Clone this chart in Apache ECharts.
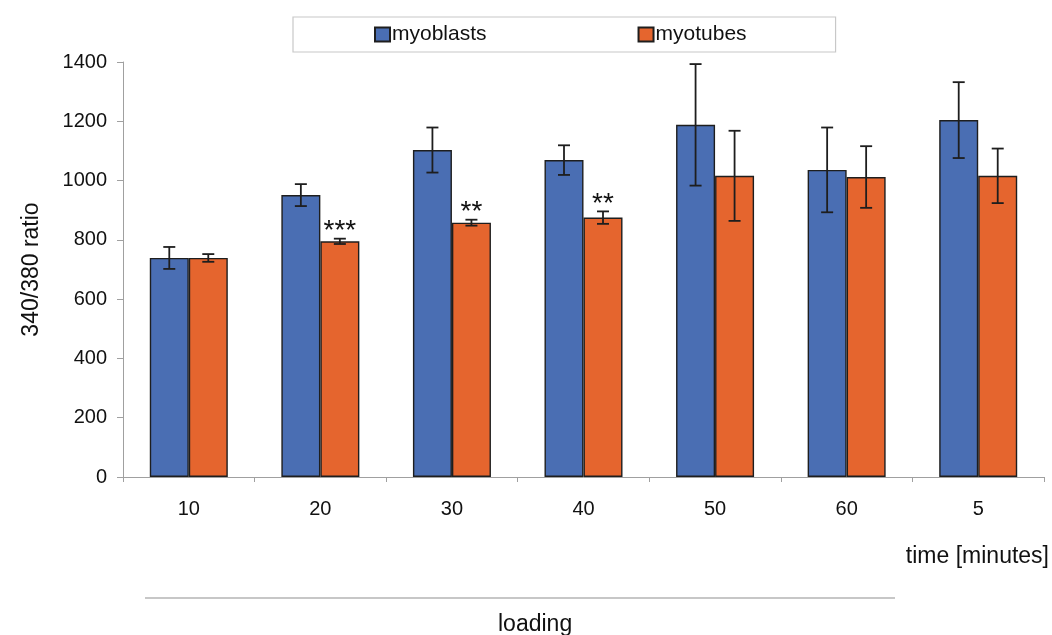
<!DOCTYPE html>
<html>
<head>
<meta charset="utf-8">
<script src="https://cdn.jsdelivr.net/npm/echarts@6/dist/echarts.min.js"></script>
<style>
  html, body { margin: 0; padding: 0; background: #fff; }
  #chart { width: 1052px; height: 635px; }
</style>
</head>
<body>
<div id="chart"></div>
<script>
// Time points (minutes) after loading
const categories = ['10', '20', '30', '40', '50', '60', '5'];

// Mean 340/380 ratio per cell type
const myoblastMeans = [739, 951, 1103, 1069, 1188, 1036, 1204];
const myotubeMeans  = [739, 795, 858, 875, 1016, 1012, 1016];

// Error bar half-widths
const myoblastErr = [37, 37, 76, 50, 205, 143, 128];
const myotubeErr  = [13, 9, 10, 21, 152, 104, 92];

// Significance markers above myotube bars
const myotubeSig = ['', '***', '**', '**', '', '', ''];
const myoblastSig = ['', '', '', '', '', '', ''];

const yTicks = { min: 0, max: 1400, interval: 200 };

const FONT = 'Liberation Sans, Arial, sans-serif';
const BLUE = '#4a6eb3';
const ORANGE = '#e5652e';
const EDGE = '#1e1e1e';
const BAR_W = 39;

function errorData(means, errs, sig) {
  return means.map((m, i) => [i, m - errs[i], m + errs[i], sig[i]]);
}

function errorSeries(name, means, errs, sig, offset) {
  return {
    type: 'custom',
    name: name + ' error',
    z: 5,
    silent: true,
    encode: { x: 0, y: [1, 2] },
    data: errorData(means, errs, sig),
    renderItem: function (params, api) {
      const i = api.value(0);
      const lo = api.coord([i, api.value(1)]);
      const hi = api.coord([i, api.value(2)]);
      const x = lo[0] + offset;
      const cap = 6;
      const style = { stroke: EDGE, lineWidth: 1.8 };
      const children = [
        { type: 'line', shape: { x1: x, y1: hi[1], x2: x, y2: lo[1] }, style: style },
        { type: 'line', shape: { x1: x - cap, y1: hi[1], x2: x + cap, y2: hi[1] }, style: style },
        { type: 'line', shape: { x1: x - cap, y1: lo[1], x2: x + cap, y2: lo[1] }, style: style }
      ];
      const s = api.value(3);
      if (s) {
        children.push({
          type: 'text',
          style: {
            text: s, x: x, y: hi[1] - 7,
            align: 'center', verticalAlign: 'middle',
            font: '28px ' + FONT, fill: '#111'
          }
        });
      }
      return { type: 'group', children: children };
    }
  };
}

const chart = echarts.init(document.getElementById('chart'), null, { renderer: 'canvas' });

chart.setOption({
  animation: false,
  backgroundColor: '#fff',
  textStyle: { fontFamily: FONT },
  grid: { left: 123, right: 8, top: 62, bottom: 158, containLabel: false },
  legend: {
    data: ['myoblasts', 'myotubes'],
    left: 293,
    top: 17,
    padding: [7, 89, 7, 81],
    itemGap: 151,
    itemWidth: 15,
    itemHeight: 14,
    borderColor: '#c8c8c8',
    borderWidth: 1.2,
    icon: 'rect',
    textStyle: { fontFamily: FONT, fontSize: 21, color: '#111', padding: [0, 0, 0, -3] }
  },
  xAxis: {
    type: 'category',
    data: categories,
    axisLine: { lineStyle: { color: '#a0a0a0', width: 1 } },
    axisTick: { show: true, length: 5, lineStyle: { color: '#a0a0a0' } },
    axisLabel: { fontFamily: FONT, fontSize: 20, color: '#111', margin: 22 },
    splitLine: { show: false }
  },
  yAxis: {
    type: 'value',
    min: yTicks.min,
    max: yTicks.max,
    interval: yTicks.interval,
    name: '340/380 ratio',
    nameLocation: 'middle',
    nameGap: 80,
    nameTextStyle: { fontFamily: FONT, fontSize: 23, color: '#111' },
    axisLine: { show: true, lineStyle: { color: '#a0a0a0', width: 1 } },
    axisTick: { show: true, inside: false, length: 6, lineStyle: { color: '#a0a0a0' } },
    axisLabel: {
      fontFamily: FONT, fontSize: 20, color: '#111', margin: 16,
      formatter: function (v) { return String(v); }
    },
    splitLine: { show: false }
  },
  series: [
    {
      name: 'myoblasts',
      type: 'bar',
      data: myoblastMeans,
      barWidth: BAR_W,
      barGap: '0%',
      itemStyle: { color: BLUE, borderColor: EDGE, borderWidth: 1.4 }
    },
    {
      name: 'myotubes',
      type: 'bar',
      data: myotubeMeans,
      barWidth: BAR_W,
      barGap: '0%',
      itemStyle: { color: ORANGE, borderColor: EDGE, borderWidth: 1.4 }
    },
    errorSeries('myoblasts', myoblastMeans, myoblastErr, myoblastSig, -BAR_W / 2),
    errorSeries('myotubes', myotubeMeans, myotubeErr, myotubeSig, BAR_W / 2)
  ],
  graphic: [
    {
      type: 'text',
      right: 3,
      top: 545,
      style: { text: 'time [minutes]', font: '23px ' + FONT, fill: '#111' }
    },
    {
      type: 'line',
      shape: { x1: 145, y1: 598, x2: 895, y2: 598 },
      style: { stroke: '#b4b4b4', lineWidth: 1.5 }
    },
    {
      type: 'text',
      left: 498,
      top: 613,
      style: { text: 'loading', font: '23px ' + FONT, fill: '#111' }
    }
  ]
});
</script>
</body>
</html>
